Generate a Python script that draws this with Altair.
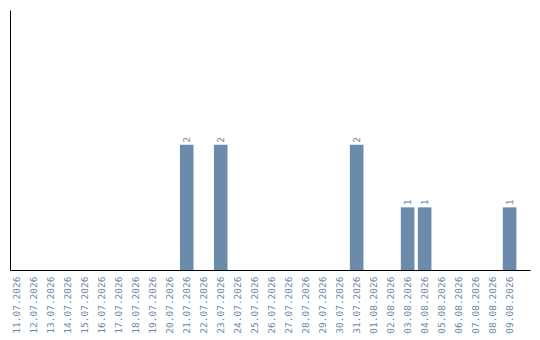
import altair as alt
import pandas as pd

dates = [
    "11.07.2026", "12.07.2026", "13.07.2026", "14.07.2026", "15.07.2026",
    "16.07.2026", "17.07.2026", "18.07.2026", "19.07.2026", "20.07.2026",
    "21.07.2026", "22.07.2026", "23.07.2026", "24.07.2026", "25.07.2026",
    "26.07.2026", "27.07.2026", "28.07.2026", "29.07.2026", "30.07.2026",
    "31.07.2026", "01.08.2026", "02.08.2026", "03.08.2026", "04.08.2026",
    "05.08.2026", "06.08.2026", "07.08.2026", "08.08.2026", "09.08.2026",
]
counts = [
    0, 0, 0, 0, 0, 0, 0, 0, 0, 0,
    2, 0, 2, 0, 0, 0, 0, 0, 0, 0,
    2, 0, 0, 1, 1, 0, 0, 0, 0, 1,
]

df = pd.DataFrame({"date": dates, "count": counts})

BAR = "#6a8bab"
TEXT = "#6688aa"
FONT = "DejaVu Sans Mono"

x = alt.X(
    "date:O",
    sort=None,
    scale=alt.Scale(paddingInner=0.2, paddingOuter=0.4, align=0),
    axis=alt.Axis(
        title=None, ticks=False, labelAngle=270, labelPadding=6,
        labelFont=FONT, labelFontSize=9.5, labelColor=TEXT,
        domainColor="black", domainWidth=1, labelOverlap=False,
    ),
)
y = alt.Y(
    "count:Q",
    scale=alt.Scale(domain=[0, 4.15], nice=False),
    axis=alt.Axis(title=None, ticks=False, labels=False, grid=False,
                  domainColor="black", domainWidth=1),
)

bars = alt.Chart(df).mark_bar(color=BAR).encode(x=x, y=y)

labels = alt.Chart(df).transform_filter("datum.count > 0").mark_text(
    angle=270, align="left", baseline="middle", dx=2,
    font=FONT, fontSize=9.5, color=TEXT,
).encode(x=x, y=y, text="count:Q")

chart = (bars + labels).properties(
    width=520, height=260,
    autosize=alt.AutoSizeParams(type="none"),
    padding={"left": 10, "top": 10, "right": 10, "bottom": 70},
).configure(
    background="white",
    view=alt.ViewConfig(stroke="transparent", strokeWidth=0),
)

chart.save("out.html", embed_options={"renderer": "svg", "actions": False})
